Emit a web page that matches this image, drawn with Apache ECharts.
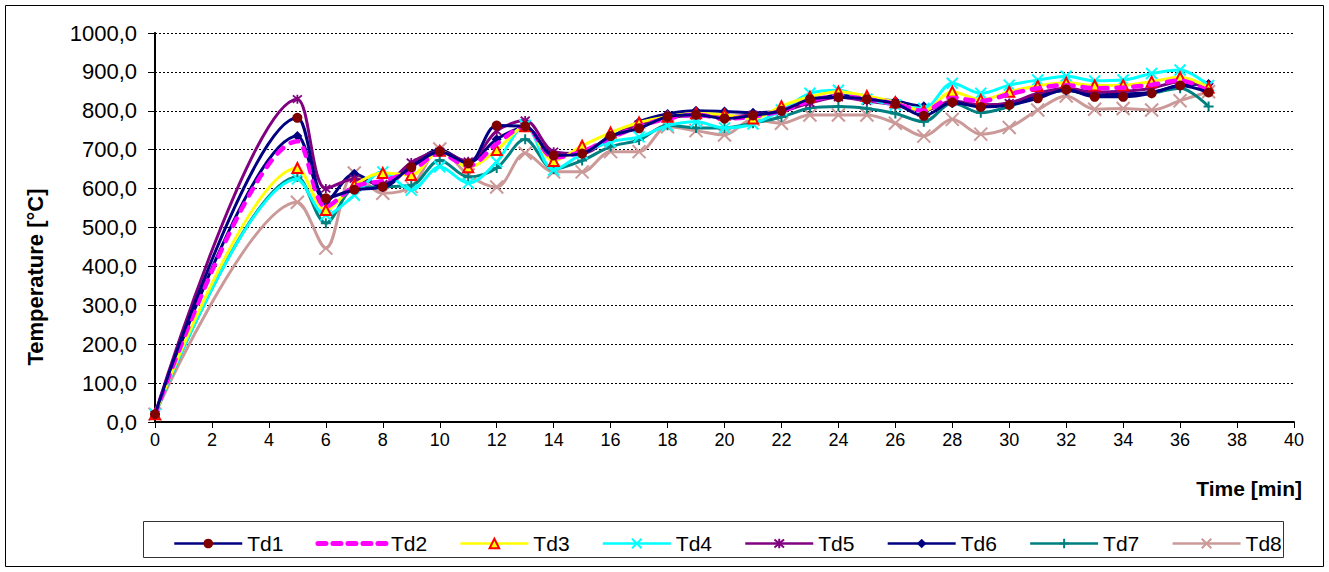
<!DOCTYPE html>
<html>
<head>
<meta charset="utf-8">
<script src="https://cdn.jsdelivr.net/npm/echarts@6/dist/echarts.min.js"></script>
<style>
  html, body { margin: 0; padding: 0; background: #fff; }
  #chart { width: 1329px; height: 572px; }
</style>
</head>
<body>
<div id="chart"></div>
<script>
// Measurement times (minutes)
const times = [0, 5, 6, 7, 8, 9, 10, 11, 12, 13, 14, 15, 16, 17, 18, 19, 20, 21, 22, 23, 24, 25, 26, 27, 28, 29, 30, 31, 32, 33, 34, 35, 36, 37];

// Thermocouple readings (°C)
const td1 = [20, 782, 575, 597, 605, 655, 695, 665, 762, 760, 685, 690, 735, 755, 785, 790, 780, 788, 800, 830, 835, 830, 818, 787, 822, 810, 815, 832, 855, 836, 836, 845, 865, 847];
const td2 = [20, 722, 553, 605, 620, 645, 690, 658, 715, 760, 680, 695, 730, 760, 780, 790, 780, 785, 800, 825, 838, 830, 818, 800, 833, 825, 843, 858, 866, 858, 860, 867, 878, 850];
const td3 = [20, 653, 545, 609, 640, 635, 697, 655, 699, 760, 671, 710, 744, 770, 785, 794, 790, 780, 812, 836, 849, 838, 822, 800, 849, 828, 849, 864, 872, 865, 866, 875, 886, 860];
const td4 = [20, 625, 532, 583, 643, 596, 656, 614, 669, 763, 648, 690, 720, 733, 762, 772, 756, 766, 802, 845, 853, 830, 815, 806, 871, 845, 866, 879, 889, 877, 879, 896, 905, 865];
const td5 = [20, 830, 600, 625, 612, 667, 695, 670, 748, 775, 695, 690, 730, 765, 782, 787, 785, 790, 798, 820, 835, 825, 815, 800, 825, 815, 820, 845, 858, 848, 850, 858, 875, 862];
const td6 = [20, 735, 566, 638, 604, 659, 700, 667, 727, 757, 689, 695, 731, 772, 792, 800, 798, 795, 800, 823, 840, 832, 825, 812, 820, 815, 819, 840, 853, 841, 843, 848, 865, 869];
const td7 = [20, 630, 511, 601, 605, 608, 673, 630, 653, 727, 650, 672, 708, 725, 763, 756, 756, 768, 784, 807, 811, 806, 793, 772, 820, 795, 811, 838, 852, 840, 840, 845, 858, 811];
const td8 = [20, 565, 447, 640, 588, 605, 702, 635, 604, 691, 643, 643, 695, 695, 759, 749, 738, 778, 768, 789, 789, 789, 768, 735, 778, 740, 757, 802, 838, 804, 806, 802, 826, 849];

const seriesNames = ['Td1', 'Td2', 'Td3', 'Td4', 'Td5', 'Td6', 'Td7', 'Td8'];
const seriesValues = [td1, td2, td3, td4, td5, td6, td7, td8];

// Stroke-only marker shapes
const SYM_X = 'path://M0,0L10,10M10,0L0,10';
const SYM_PLUS = 'path://M5,0L5,10M0,5L10,5';
const SYM_STAR = 'path://M0,0L10,10M10,0L0,10M5,-1L5,11';

const styles = [
  { line: '#000080', width: 3, symbol: 'circle', size: 10, fill: '#800000', border: '#800000', bw: 0 },
  { line: '#FF00FF', width: 4.5, dash: [8, 9], cap: 'round', symbol: 'none' },
  { line: '#FFFF00', width: 3, symbol: 'triangle', size: 10, fill: '#FFFF00', border: '#FF0000', bw: 2 },
  { line: '#00FFFF', width: 3, symbol: SYM_X, size: 11, fill: '#00FFFF', border: '#00FFFF', bw: 2 },
  { line: '#800080', width: 3, symbol: SYM_STAR, size: 9, fill: '#800080', border: '#800080', bw: 1.8 },
  { line: '#000080', width: 3, symbol: 'diamond', size: 10, fill: '#000080', border: '#000080', bw: 0 },
  { line: '#008080', width: 3, symbol: SYM_PLUS, size: 10, fill: '#008080', border: '#008080', bw: 2 },
  { line: '#CC9999', width: 3, symbol: SYM_X, size: 13, fill: '#CC9999', border: '#CC9999', bw: 2 }
];

const FONT = '"Liberation Sans", Arial, sans-serif';

const series = seriesNames.map((name, i) => {
  const s = styles[i];
  return {
    name: name,
    type: 'line',
    smooth: 0.33,
    data: times.map((t, k) => [t, seriesValues[i][k]]),
    symbol: s.symbol,
    symbolSize: s.size || 0,
    showSymbol: s.symbol !== 'none',
    lineStyle: { color: s.line, width: s.width, type: s.dash || 'solid', cap: s.cap || 'butt' },
    itemStyle: { color: s.fill || s.line, borderColor: s.border || s.line, borderWidth: s.bw || 0 },
    emphasis: { disabled: true },
    z: 10 - i
  };
});

// Legend entries; the dashed series shows its line only
const legendData = seriesNames.map((name, i) => {
  const s = styles[i];
  return s.symbol === 'none'
    ? { name: name, itemStyle: { opacity: 0 }, lineStyle: { width: 5, type: [8, 7], cap: 'round', color: s.line } }
    : { name: name, lineStyle: { width: 2.5 } };
});

const chart = echarts.init(document.getElementById('chart'), null, { renderer: 'svg' });

chart.setOption({
  animation: false,
  backgroundColor: '#fff',
  grid: { left: 155, right: 35, top: 33, bottom: 150, containLabel: false },
  xAxis: {
    type: 'value',
    min: 0, max: 40, interval: 2,
    axisLine: { show: true, lineStyle: { color: '#000', width: 2 } },
    axisTick: { show: true, inside: false, length: 6, lineStyle: { color: '#000', width: 1 } },
    axisLabel: { color: '#000', fontFamily: FONT, fontSize: 18, margin: 9 },
    splitLine: { show: false }
  },
  yAxis: [{
    type: 'value',
    min: 0, max: 1000, interval: 100,
    axisLine: { show: true, onZero: false, lineStyle: { color: '#000', width: 2 } },
    axisTick: { show: true, inside: false, length: 7, lineStyle: { color: '#000', width: 1 } },
    axisLabel: {
      color: '#000', fontFamily: FONT, fontSize: 22, margin: 18,
      formatter: v => v.toFixed(1).replace('.', ',')
    },
    splitLine: { show: true, lineStyle: { color: '#000', width: 1, type: [2, 2] } }
  }, {
    type: 'value',
    position: 'right',
    min: 0, max: 1000, interval: 100,
    axisLine: { show: true, lineStyle: { color: '#000', width: 1.5 } },
    axisTick: { show: false },
    axisLabel: { show: false },
    splitLine: { show: false }
  }],
  legend: {
    data: legendData,
    left: 168,
    top: 528,
    itemWidth: 68,
    itemHeight: 12,
    itemGap: 32,
    textStyle: { color: '#000', fontFamily: FONT, fontSize: 21 },
    selectedMode: false
  },
  graphic: [
    { type: 'rect', shape: { x: 5.5, y: 5.5, width: 1318, height: 561 }, style: { fill: 'none', stroke: '#000', lineWidth: 1 }, silent: true },
    { type: 'rect', shape: { x: 143.5, y: 521.5, width: 1140, height: 36 }, style: { fill: 'none', stroke: '#333', lineWidth: 1 }, silent: true },
    {
      type: 'text', x: 35, y: 277, rotation: Math.PI / 2,
      style: { text: 'Temperature [°C]', fill: '#000', font: 'bold 22px ' + FONT, textAlign: 'center', textVerticalAlign: 'middle' },
      silent: true
    },
    {
      type: 'text', x: 1302, y: 488,
      style: { text: 'Time [min]', fill: '#000', font: 'bold 21px ' + FONT, textAlign: 'right', textVerticalAlign: 'middle' },
      silent: true
    }
  ],
  series: series
});
</script>
</body>
</html>
